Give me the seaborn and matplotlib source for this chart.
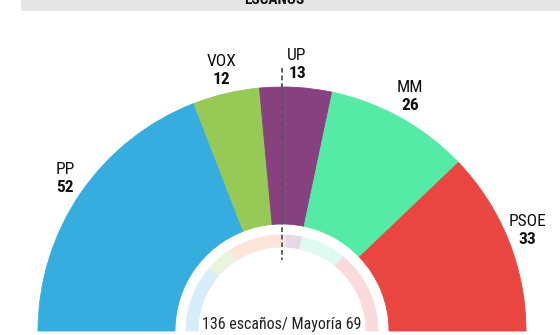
import matplotlib
matplotlib.use("Agg")
import matplotlib.pyplot as plt
import seaborn as sns

# ---- data ----
parties = ["PP", "VOX", "UP", "MM", "PSOE"]
seats = [52, 12, 13, 26, 33]
colors = ["#35ADDF", "#97C957", "#87417F", "#55EBA7", "#E94541"]

prev_parties = ["PP", "VOX", "Cs", "UP", "MM", "PSOE"]
prev_seats = [30, 12, 26, 7, 20, 37]
prev_colors = ["#D7EEF8", "#E9F4DE", "#FCE4D8", "#E6D7E6", "#DDFBEE", "#FADADB"]

title = "ESCAÑOS"
total = sum(seats)
majority = total // 2 + 1
footer = f"{total} escaños/ Mayoría {majority}"

# label anchor positions (pixels from top-left)
label_xy = {"PP": (65, 170), "VOX": (222, 62), "UP": (297, 55),
            "MM": (410, 87), "PSOE": (527, 221)}

sns.set_theme(style="white")
plt.rcParams["font.family"] = ["Roboto Condensed", "Liberation Sans Narrow", "DejaVu Sans"]

W, H = 560, 335
fig = plt.figure(figsize=(W / 100, H / 100), dpi=100)
ax = fig.add_axes([0, 0, 1, 1])

cx, cy = 282, H - 331

# outer ring (current seats)
wedges, _ = ax.pie(seats + [total], colors=colors + ["white"], startangle=180,
                   counterclock=False, radius=244, center=(cx, cy),
                   wedgeprops=dict(width=137, linewidth=0.6))
for w in wedges:
    w.set_edgecolor(w.get_facecolor())
wedges[-1].set_visible(False)

# inner ring (previous seats)
pw, _ = ax.pie(prev_seats + [sum(prev_seats)], colors=prev_colors + ["white"],
               startangle=180, counterclock=False, radius=96, center=(cx, cy),
               wedgeprops=dict(width=12, linewidth=0.6))
for w in pw:
    w.set_edgecolor(w.get_facecolor())
pw[-1].set_visible(False)

# majority dashed line
ax.plot([cx, cx], [H - 68, H - 260], color="#555555", lw=1.3,
        dashes=(2.6, 1.6), zorder=5)

# labels
for p, s in zip(parties, seats):
    x, y = label_xy[p]
    ax.text(x, H - y, p, ha="center", va="center", fontsize=12.5, color="#111111")
    ax.text(x, H - y - 18, str(s), ha="center", va="center", fontsize=12.5,
            fontweight="bold", color="#111111")

# footer
ax.text(cx, H - 324, footer, ha="center", va="center", fontsize=11.5, color="#222222")

# top gray bar with cut-off title
ax.add_patch(plt.Rectangle((21, H - 10.5), W - 21, 10.5, color="#E5E5E5", lw=0, zorder=6))
ax.text(274, H - 3.5, title, ha="center", va="baseline", fontsize=11,
        fontweight="bold", color="#111111", zorder=7)

ax.set_xlim(0, W)
ax.set_ylim(0, H)
ax.set_aspect("auto")
ax.axis("off")

fig.savefig("out.png", dpi=100)
